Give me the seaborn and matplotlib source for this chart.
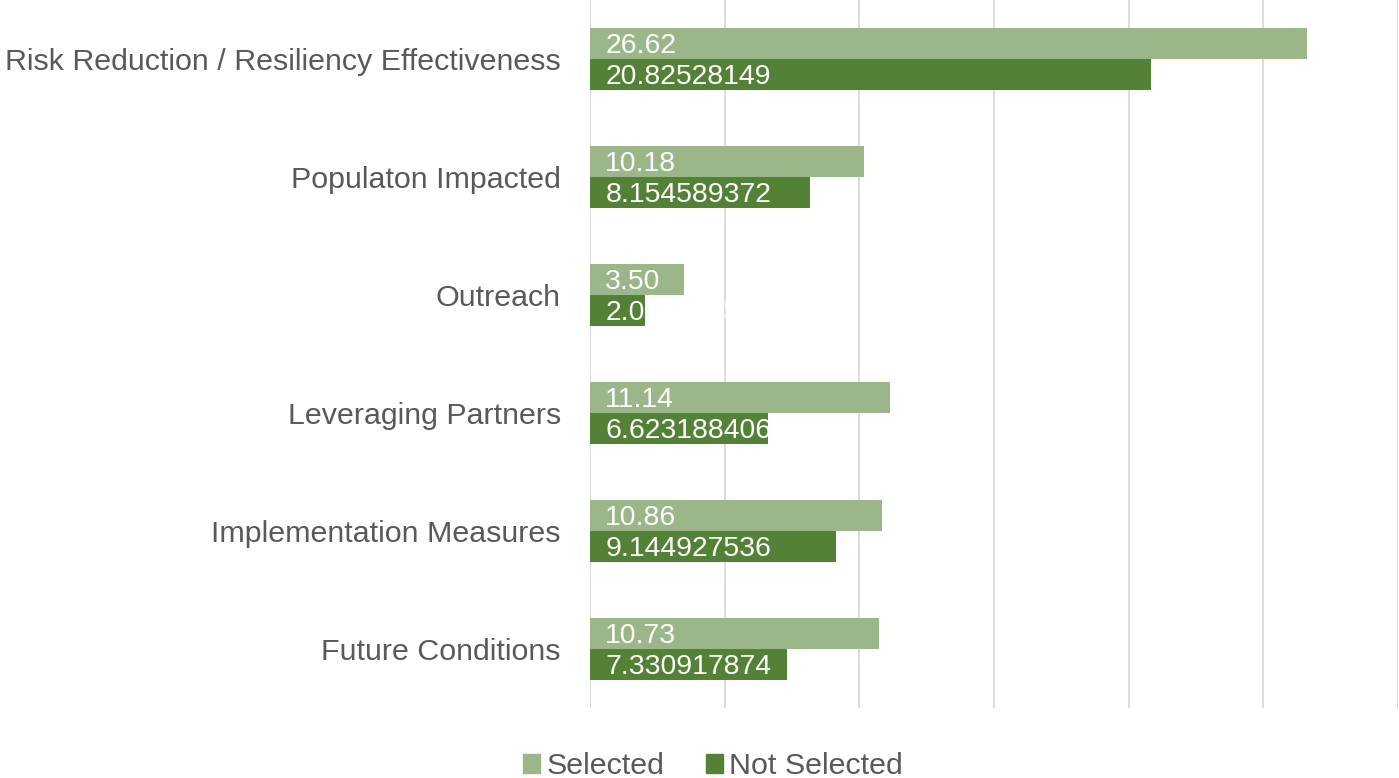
import matplotlib
matplotlib.use("Agg")
import matplotlib.pyplot as plt
import seaborn as sns
import pandas as pd
from matplotlib.patches import Patch

categories = [
    "Risk Reduction / Resiliency Effectiveness",
    "Populaton Impacted",
    "Outreach",
    "Leveraging Partners",
    "Implementation Measures",
    "Future Conditions",
]
selected = [26.62, 10.18, 3.50, 11.14, 10.86, 10.73]
not_selected = [20.82528149, 8.154589372, 2.028985507, 6.623188406, 9.144927536, 7.330917874]
series_names = ["Selected", "Not Selected"]

light_green = "#9BB78A"
dark_green = "#538135"
text_gray = "#595959"
grid_gray = "#D9D9D9"

df = pd.DataFrame({
    "category": categories * 2,
    "series": [series_names[0]] * len(categories) + [series_names[1]] * len(categories),
    "value": selected + not_selected,
})

sns.set_theme(style="white")
plt.rcParams["font.family"] = ["Liberation Sans", "DejaVu Sans"]

fig = plt.figure(figsize=(13.99, 7.78), dpi=100)
ax = fig.add_axes([590 / 1399, 70 / 778, 808 / 1399, 708 / 778])

sns.barplot(
    data=df, y="category", x="value", hue="series", orient="h",
    palette=[light_green, dark_green], width=0.525, gap=0,
    saturation=1, ax=ax, legend=False, zorder=2, linewidth=0,
)

ax.set_xlim(0, 30)
ax.set_ylim(len(categories) - 0.5, -0.5)
ax.set_xticks(range(0, 31, 5))
ax.xaxis.grid(True, color=grid_gray, linewidth=1.3, zorder=0)
ax.set_axisbelow(True)
ax.tick_params(axis="x", length=0, labelbottom=False)
ax.tick_params(axis="y", length=0, pad=21, labelsize=21.9, labelcolor=text_gray)
ax.set_xlabel("")
ax.set_ylabel("")
for s in ax.spines.values():
    s.set_visible(False)

# value labels sit inside each bar, at its base
for container, vals, fmt in zip(ax.containers, [selected, not_selected],
                                [lambda v: f"{v:.2f}", lambda v: repr(v)]):
    for bar, v in zip(container, vals):
        ax.annotate(fmt(v), xy=(0, bar.get_y() + bar.get_height() / 2),
                    xytext=(11, -1.5), textcoords="offset points",
                    ha="left", va="center", color="white", fontsize=20.4,
                    zorder=3)

handles = [Patch(color=light_green), Patch(color=dark_green)]
fig.legend(handles, series_names, loc="center", bbox_to_anchor=(0.5095, 0.015),
           ncol=2, frameon=False, fontsize=21.9, labelcolor=text_gray,
           handlelength=0.56, handleheight=0.56, handletextpad=0.2,
           columnspacing=1.37)

fig.savefig("out.png", dpi=100, facecolor="white")
